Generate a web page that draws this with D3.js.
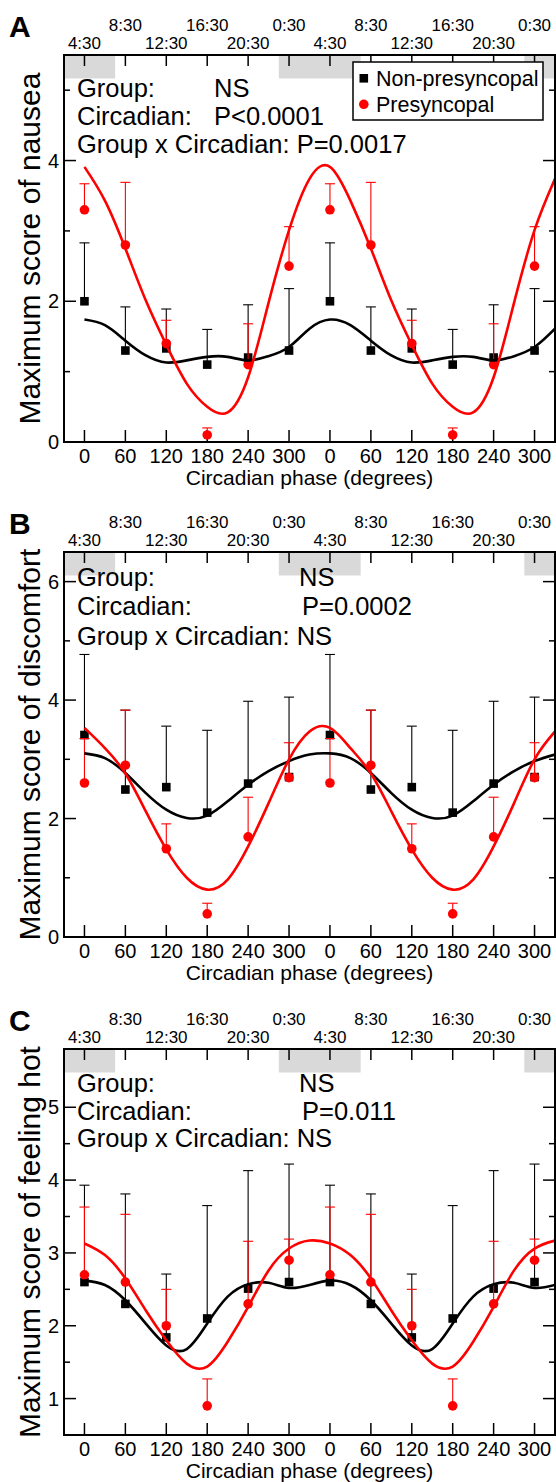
<!DOCTYPE html>
<html>
<head>
<meta charset="utf-8">
<script src="https://cdn.jsdelivr.net/npm/d3@7"></script>
<style>
  html, body { margin: 0; padding: 0; background: #fff; }
  svg { display: block; font-family: "Liberation Sans", Arial, Helvetica, sans-serif; }
</style>
</head>
<body>
<div id="chart"></div>
<script>
// Phases at which the groups were sampled (double plotted over two cycles)
const phases = [0, 60, 120, 180, 240, 300];
const cycles = [0, 360];
const clockLabels = ["4:30", "8:30", "12:30", "16:30", "20:30", "0:30"];
// Phases for the fitted curves (every 30 degrees)
const fitPhases = [0, 30, 60, 90, 120, 150, 180, 210, 240, 270, 300, 330];
// Grey sleep bands at the top, in degrees
const sleepBands = [[-75, 45], [285, 405], [645, 765]];

// A: nausea
const nauseaNon = [2.0, 1.30, 1.33, 1.10, 1.20, 1.30];
const nauseaNonSE = [0.83, 0.62, 0.56, 0.50, 0.75, 0.88];
const nauseaPre = [3.3, 2.8, 1.4, 0.1, 1.1, 2.5];
const nauseaPreSE = [0.37, 0.89, 0.33, 0.10, 0.58, 0.56];
const nauseaNonFit = [1.74, 1.66, 1.44, 1.23, 1.13, 1.16, 1.21, 1.21, 1.16, 1.22, 1.35, 1.61];
const nauseaPreFit = [3.91, 3.43, 2.75, 2.01, 1.38, 0.83, 0.50, 0.42, 0.92, 1.98, 3.01, 3.74];

// B: discomfort
const discomfortNon = [3.41, 2.49, 2.53, 2.10, 2.59, 2.70];
const discomfortNonSE = [1.36, 1.34, 1.03, 1.39, 1.39, 1.35];
const discomfortPre = [2.6, 2.9, 1.49, 0.39, 1.69, 2.69];
const discomfortPreSE = [0.75, 0.93, 0.42, 0.18, 0.67, 0.59];
const discomfortNonFit = [3.10, 3.02, 2.77, 2.43, 2.15, 2.01, 2.05, 2.29, 2.57, 2.80, 2.97, 3.08];
const discomfortPreFit = [3.53, 3.19, 2.76, 2.12, 1.48, 1.00, 0.80, 0.97, 1.53, 2.26, 3.00, 3.47];

// C: feeling hot
const hotNon = [2.60, 2.30, 1.84, 2.10, 2.51, 2.60];
const hotNonSE = [1.33, 1.51, 0.87, 1.55, 1.62, 1.62];
const hotPre = [2.70, 2.60, 2.00, 0.90, 2.30, 2.90];
const hotPreSE = [0.93, 0.93, 0.50, 0.37, 0.86, 0.29];
const hotNonFit = [2.62, 2.56, 2.35, 2.03, 1.73, 1.68, 2.03, 2.40, 2.57, 2.59, 2.52, 2.56];
const hotPreFit = [3.13, 2.97, 2.65, 2.21, 1.80, 1.48, 1.44, 1.78, 2.26, 2.76, 3.06, 3.17];

const seriesNames = ["Non-presyncopal", "Presyncopal"];
const seriesColors = ["#000000", "#ff0000"];

const W = 556, H = 1482;
const plotLeft = 64, plotRight = 555;

const svg = d3.select("#chart")
    .append("svg")
    .attr("width", W)
    .attr("height", H);

const x = d3.scaleLinear()
    .domain([-30, 690])
    .range([plotLeft, plotRight]);

const tickPhases = [];
cycles.forEach(c => phases.forEach(p => tickPhases.push(p + c)));

const panels = [
    {
        letter: "A", top: 55, bottom: 442, yDomain: [0, 5.5],
        major: [0, 2, 4], minor: [1, 3, 5],
        ylabel: "Maximum score of nausea",
        non: nauseaNon, nonSE: nauseaNonSE, pre: nauseaPre, preSE: nauseaPreSE,
        nonFit: nauseaNonFit, preFit: nauseaPreFit,
        stats: [["Group:", "NS"], ["Circadian:", "P<0.0001"], ["Group x Circadian: P=0.0017", ""]],
        statY: [97, 125, 153], valueX: [214, 214], legend: true
    },
    {
        letter: "B", top: 552, bottom: 937, yDomain: [0, 6.5],
        major: [0, 2, 4, 6], minor: [1, 3, 5],
        ylabel: "Maximum score of discomfort",
        non: discomfortNon, nonSE: discomfortNonSE, pre: discomfortPre, preSE: discomfortPreSE,
        nonFit: discomfortNonFit, preFit: discomfortPreFit,
        stats: [["Group:", "NS"], ["Circadian:", "P=0.0002"], ["Group x Circadian: NS", ""]],
        statY: [586, 615, 645], valueX: [299, 302], legend: false
    },
    {
        letter: "C", top: 1049, bottom: 1435, yDomain: [0.5, 5.8],
        major: [1, 2, 3, 4, 5], minor: [1.5, 2.5, 3.5, 4.5],
        ylabel: "Maximum score of feeling hot",
        non: hotNon, nonSE: hotNonSE, pre: hotPre, preSE: hotPreSE,
        nonFit: hotNonFit, preFit: hotPreFit,
        stats: [["Group:", "NS"], ["Circadian:", "P=0.011"], ["Group x Circadian: NS", ""]],
        statY: [1092, 1120, 1147], valueX: [299, 302], legend: false
    }
];

panels.forEach((p, k) => {
    const g = svg.append("g");
    const y = d3.scaleLinear().domain(p.yDomain).range([p.bottom, p.top]);

    const clipId = "clip" + k;
    g.append("clipPath").attr("id", clipId)
        .append("rect")
        .attr("x", plotLeft).attr("y", p.top)
        .attr("width", plotRight - plotLeft).attr("height", p.bottom - p.top);

    // grey sleep bands
    g.append("g").attr("clip-path", `url(#${clipId})`)
        .selectAll("rect")
        .data(sleepBands)
        .enter()
        .append("rect")
        .attr("x", d => x(d[0]))
        .attr("width", d => x(d[1]) - x(d[0]))
        .attr("y", p.top)
        .attr("height", 23.5)
        .attr("fill", "#d9d9d9");

    // stats text
    p.stats.forEach((row, i) => {
        g.append("text")
            .attr("x", 77).attr("y", p.statY[i])
            .attr("font-size", "25.5px")
            .text(row[0]);
        if (row[1]) {
            g.append("text")
                .attr("x", p.valueX[i]).attr("y", p.statY[i])
                .attr("font-size", "25.5px")
                .text(row[1]);
        }
    });

    // bottom and top ticks
    g.selectAll(".xtb")
        .data(tickPhases)
        .enter()
        .append("line")
        .attr("x1", d => x(d)).attr("x2", d => x(d))
        .attr("y1", p.bottom).attr("y2", p.bottom - 12)
        .attr("stroke", "#000").attr("stroke-width", 1.5);
    g.selectAll(".xtt")
        .data(tickPhases)
        .enter()
        .append("line")
        .attr("x1", d => x(d)).attr("x2", d => x(d))
        .attr("y1", p.top).attr("y2", p.top + 11)
        .attr("stroke", "#000").attr("stroke-width", 1.5);

    // y ticks, both sides, inward
    [[p.major, 12], [p.minor, 6]].forEach(([vals, len]) => {
        vals.forEach(v => {
            g.append("line")
                .attr("x1", plotLeft).attr("x2", plotLeft + len)
                .attr("y1", y(v)).attr("y2", y(v))
                .attr("stroke", "#000").attr("stroke-width", 1.5);
            g.append("line")
                .attr("x1", plotRight).attr("x2", plotRight - len)
                .attr("y1", y(v)).attr("y2", y(v))
                .attr("stroke", "#000").attr("stroke-width", 1.5);
        });
    });
    g.selectAll(".ylab")
        .data(p.major)
        .enter()
        .append("text")
        .attr("x", plotLeft - 5)
        .attr("y", d => y(d) + 7)
        .attr("text-anchor", "end")
        .attr("font-size", "20px")
        .text(d => d);

    // bottom tick labels
    g.selectAll(".xlab")
        .data(tickPhases)
        .enter()
        .append("text")
        .attr("x", d => x(d))
        .attr("y", p.bottom + 21)
        .attr("text-anchor", "middle")
        .attr("font-size", "20px")
        .text(d => d % 360);

    // top clock labels, staggered in two rows
    g.selectAll(".clab")
        .data(tickPhases)
        .enter()
        .append("text")
        .attr("x", d => x(d))
        .attr("y", (d, i) => i % 2 === 0 ? p.top - 6 : p.top - 24)
        .attr("text-anchor", "middle")
        .attr("font-size", "17px")
        .text((d, i) => clockLabels[i % 6]);

    // axis titles
    g.append("text")
        .attr("x", (plotLeft + plotRight) / 2)
        .attr("y", p.bottom + 43)
        .attr("text-anchor", "middle")
        .attr("font-size", "21px")
        .text("Circadian phase (degrees)");
    g.append("text")
        .attr("transform", `translate(40,${(p.top + p.bottom) / 2}) rotate(-90)`)
        .attr("text-anchor", "middle")
        .attr("font-size", "30px")
        .text(p.ylabel);

    // panel letter
    g.append("text")
        .attr("x", 9).attr("y", p.top - 18)
        .attr("font-size", "30px")
        .attr("font-weight", "bold")
        .text(p.letter);

    const data = [
        { mean: p.non, se: p.nonSE, fit: p.nonFit, color: seriesColors[0], shape: "square" },
        { mean: p.pre, se: p.preSE, fit: p.preFit, color: seriesColors[1], shape: "circle" }
    ];

    const plot = g.append("g").attr("clip-path", `url(#${clipId})`);

    data.forEach(s => {
        const pts = [];
        cycles.forEach(c => phases.forEach((ph, i) => pts.push({ ph: ph + c, v: s.mean[i], se: s.se[i] })));

        // error bars (upper only)
        plot.selectAll(null)
            .data(pts)
            .enter()
            .append("line")
            .attr("x1", d => x(d.ph)).attr("x2", d => x(d.ph))
            .attr("y1", d => y(d.v)).attr("y2", d => y(d.v + d.se))
            .attr("stroke", s.color).attr("stroke-width", 1.1);
        plot.selectAll(null)
            .data(pts)
            .enter()
            .append("line")
            .attr("x1", d => x(d.ph) - 5).attr("x2", d => x(d.ph) + 5)
            .attr("y1", d => y(d.v + d.se)).attr("y2", d => y(d.v + d.se))
            .attr("stroke", s.color).attr("stroke-width", 1.1);

        if (s.shape === "square") {
            plot.selectAll(null)
                .data(pts)
                .enter()
                .append("rect")
                .attr("x", d => x(d.ph) - 4.3).attr("y", d => y(d.v) - 4.3)
                .attr("width", 8.6).attr("height", 8.6)
                .attr("fill", s.color);
        } else {
            plot.selectAll(null)
                .data(pts)
                .enter()
                .append("circle")
                .attr("cx", d => x(d.ph)).attr("cy", d => y(d.v))
                .attr("r", 4.8)
                .attr("fill", s.color);
        }
    });

    // fitted curves
    data.forEach(s => {
        const fitPts = [];
        cycles.forEach(c => fitPhases.forEach((ph, i) => fitPts.push({ ph: ph + c, v: s.fit[i] })));
        const line = d3.line()
            .x(d => x(d.ph))
            .y(d => y(d.v))
            .curve(d3.curveNatural);
        plot.append("path")
            .datum(fitPts)
            .attr("fill", "none")
            .attr("stroke", s.color)
            .attr("stroke-width", 2.6)
            .attr("d", line);
    });

    // frame
    g.append("rect")
        .attr("x", plotLeft).attr("y", p.top)
        .attr("width", plotRight - plotLeft).attr("height", p.bottom - p.top)
        .attr("fill", "none")
        .attr("stroke", "#000").attr("stroke-width", 2);

    // legend
    if (p.legend) {
        const lg = g.append("g");
        lg.append("rect")
            .attr("x", 353).attr("y", 62)
            .attr("width", 190).attr("height", 58)
            .attr("fill", "#fff")
            .attr("stroke", "#000").attr("stroke-width", 1.5);
        lg.append("rect")
            .attr("x", 359.5).attr("y", 74)
            .attr("width", 8.6).attr("height", 8.6)
            .attr("fill", seriesColors[0]);
        lg.append("circle")
            .attr("cx", 363.8).attr("cy", 104.3).attr("r", 4.8)
            .attr("fill", seriesColors[1]);
        seriesNames.forEach((n, i) => {
            lg.append("text")
                .attr("x", 376).attr("y", 86 + i * 26)
                .attr("font-size", "21.5px")
                .text(n);
        });
    }
});
</script>
</body>
</html>
